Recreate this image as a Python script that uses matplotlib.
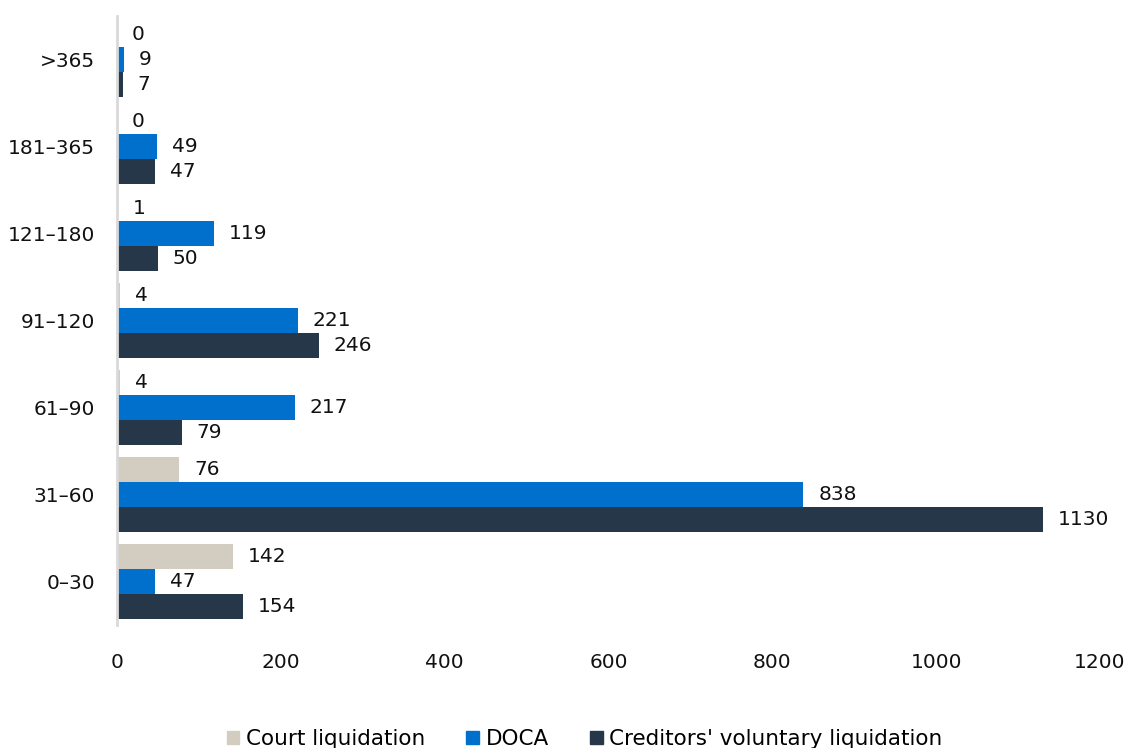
import numpy as np
import matplotlib
matplotlib.use("Agg")
import matplotlib.pyplot as plt
from matplotlib.patches import Patch

# days categories, bottom to top
categories = ["0–30", "31–60", "61–90", "91–120", "121–180", "181–365", ">365"]
court = [142, 76, 4, 4, 1, 0, 0]
doca = [47, 838, 217, 221, 119, 49, 9]
cvl = [154, 1130, 79, 246, 50, 47, 7]

series = [("Court liquidation", court, "#d3cdc1"),
          ("DOCA", doca, "#0070cc"),
          ("Creditors' voluntary liquidation", cvl, "#253748")]

plt.rcParams['font.family'] = ['DejaVu Sans']

fig = plt.figure(figsize=(11.26, 7.48), dpi=100)
ax = fig.add_axes([0.1039, 0.1644, 0.873, 0.8142])

y = np.arange(len(categories))
h = 0.287
offsets = [h, 0, -h]
for (name, vals, col), off in zip(series, offsets):
    bars = ax.barh(y + off, vals, height=h, color=col, label=name)
    for b, v in zip(bars, vals):
        ax.text(b.get_width() + 18, b.get_y() + h / 2, str(v),
                va='center', ha='left', fontsize=14.5, color='#111111')

ax.set_xlim(0, 1200)
ax.set_ylim(-0.5, 6.5)
ax.set_xticks(np.arange(0, 1201, 200))
ax.set_yticks(y)
ax.set_yticklabels(categories)
ax.tick_params(axis='both', length=0, labelsize=14.5, colors='#111111')
ax.tick_params(axis='x', pad=20)
ax.tick_params(axis='y', pad=16)
for s in ['top', 'right', 'bottom']:
    ax.spines[s].set_visible(False)
ax.spines['left'].set_color('#d9d9d9')
ax.spines['left'].set_linewidth(2)

handles = [Patch(color=c, label=n) for n, _, c in series]
fig.legend(handles=handles, loc='center', bbox_to_anchor=(0.519, 0.012),
           ncol=3, frameon=False, fontsize=15.5, handlelength=0.6,
           handleheight=0.6, handletextpad=0.3, columnspacing=1.9)

fig.savefig("out.png", dpi=100)
